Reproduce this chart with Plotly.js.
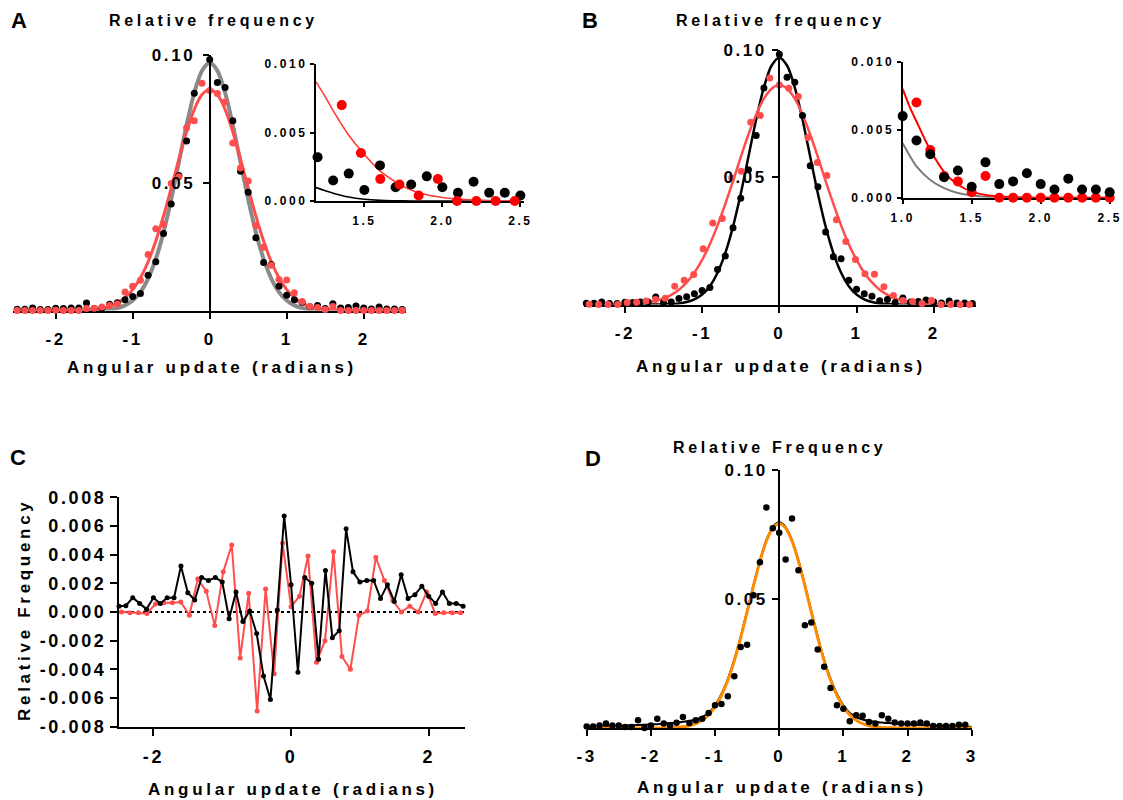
<!DOCTYPE html>
<html>
<head>
<meta charset="utf-8">
<script src="https://cdn.plot.ly/plotly-3.0.1.min.js"></script>
<style>
  html, body { margin: 0; padding: 0; background: #fff; }
  #chart { width: 1123px; height: 800px; }
  [class*="axislayer"] text { letter-spacing: 2.6px; }
  .annotation-text { letter-spacing: 3.7px; }
</style>
</head>
<body>
<div id="chart"></div>
<script>
// ---------------- DATA ----------------
// bins (0.1 rad) used by the black histogram and panel-A red histogram
const binX = [-2.5,-2.4,-2.3,-2.2,-2.1,-2.0,-1.9,-1.8,-1.7,-1.6,-1.5,-1.4,-1.3,-1.2,-1.1,-1.0,-0.9,-0.8,-0.7,-0.6,-0.5,-0.4,-0.3,-0.2,-0.1,0,0.1,0.2,0.3,0.4,0.5,0.6,0.7,0.8,0.9,1.0,1.1,1.2,1.3,1.4,1.5,1.6,1.7,1.8,1.9,2.0,2.1,2.2,2.3,2.4,2.5];
// wider bins (used by the red histogram in panel B and C)
const redXB = [-2.464,-2.341,-2.218,-2.094,-1.971,-1.848,-1.725,-1.602,-1.478,-1.355,-1.232,-1.109,-0.986,-0.862,-0.739,-0.616,-0.493,-0.370,-0.246,-0.123,0,0.123,0.246,0.370,0.493,0.616,0.739,0.862,0.986,1.109,1.232,1.355,1.478,1.602,1.725,1.848,1.971,2.094,2.218,2.341,2.464];

const blackFreq = [0.0005,0.0005,0.0010,0.0004,0.0004,0.0009,0.0008,0.0010,0.0010,0.0029,0.0008,0.0010,0.0024,0.0030,0.0042,0.0055,0.0067,0.0138,0.0191,0.0302,0.0417,0.0529,0.0664,0.0851,0.1005,0.0983,0.0893,0.0873,0.0743,0.0545,0.0463,0.0285,0.0188,0.0180,0.0095,0.0060,0.0042,0.0032,0.0015,0.0020,0.0008,0.0026,0.0010,0.0012,0.0018,0.0010,0.0006,0.0014,0.0006,0.0006,0.0004];
const redFreq = [0,0,0,0,0, 0.0001,0,0,0,0.0008, 0.0009,0.0014,0.0020,0.0025,0.0072, 0.0095,0.0118,0.0219,0.0320,0.0338, 0.0497,0.0524,0.0716,0.0743,0.0890, 0.0862, 0.0850,0.0817,0.0656,0.0558,0.0507, 0.0333,0.0248,0.0177,0.0121,0.0119, 0.0070,0.0035,0.0016,0.0012,0.0004, 0.0016,0,0,0,0, 0,0,0,0,0];

// fitted curves on binX
const fitBlack = [0,0,0,0,0,0,0,0,0, 0.00003,0.00007,0.00018,0.00043,0.00096,0.0020,0.0039,0.0072,0.0125,0.0202,0.0306,0.0435,0.0581,0.0727,0.0853,0.0939, 0.0970, 0.0939,0.0853,0.0727,0.0581,0.0435,0.0306,0.0202,0.0125,0.0072,0.0039,0.0020,0.00096,0.00043,0.00018,0.00007,0.00003, 0,0,0,0,0,0,0,0,0];
const fitRedA = [0,0,0,0,0,0,0, 0.00004,0.0001,0.0002,0.00042,0.00084,0.0016,0.0029,0.0050,0.0082,0.0128,0.0191,0.0272,0.0370,0.0480,0.0593,0.0700,0.0788,0.0846, 0.0866, 0.0846,0.0788,0.0700,0.0593,0.0480,0.0370,0.0272,0.0191,0.0128,0.0082,0.0050,0.0029,0.0016,0.00084,0.00042,0.0002,0.0001,0.00004, 0,0,0,0,0,0,0];
const fitRedB = [0,0.00001,0.00002,0.00004,0.00008,0.00015,0.00027,0.00049,0.00086,0.00145,0.0024,0.0038,0.0058,0.0087,0.0125,0.0175,0.0237,0.0311,0.0395,0.0485,0.0579,0.0668,0.0747,0.0809,0.0848, 0.0862, 0.0848,0.0809,0.0747,0.0668,0.0579,0.0485,0.0395,0.0311,0.0237,0.0175,0.0125,0.0087,0.0058,0.0038,0.0024,0.00145,0.00086,0.00049,0.00027,0.00015,0.00008,0.00004,0.00002,0.00001,0];

// insets
const insetAX = [1.19,1.25,1.3,1.4,1.5,1.6,1.7,1.8,1.9,2.0,2.1,2.2,2.3,2.4,2.5];
const insetARed = [0.0087,0.0076,0.0066,0.0048,0.0034,0.0022,0.0014,0.0008,0.00046,0.00026,0.00014,0.00007,0.00003,0.00001,0];
const insetABlack = [0.00098,0.00075,0.00057,0.00029,0.00013,0.00005,0.00002,0,0,0,0,0,0,0,0];
const insetBX = [1.0,1.05,1.1,1.2,1.3,1.4,1.5,1.6,1.7,1.8,1.9,2.0,2.2,2.5];
const insetBRed = [0.0080,0.0067,0.0056,0.0035,0.0019,0.00095,0.00045,0.0002,0.00008,0.00003,0.00001,0,0,0];
const insetBGray = [0.0040,0.0031,0.0023,0.0013,0.0007,0.00035,0.00016,0.00007,0.00003,0.00001,0,0,0,0];

// panel C (differences)
const cBlack = [0.0004,0.00044,0.0010,0.0006,0.0002, 0.0010,0.0006,0.0010,0.0010,0.0032, 0.00135,0.00084,0.0024,0.0022,0.0024, 0.0021,-0.00047,0.0014,-0.00067,0.00007, -0.0015,-0.00447,-0.0061,0.00014,0.0067, 0.0019, -0.0042,0.0024,0.0020,-0.0033,0.0029, -0.0018,-0.0013,0.0058,0.0028,0.0021, 0.0022,0.0022,0.00095,0.0019,0.00074, 0.0026,0.00095,0.0012,0.0018,0.0011, 0.0006,0.0014,0.0006,0.0006,0.0004];
const cRed = [0,-0.00005,-0.00005,-0.0001,0.00056,0.00065,0.00065,0.0007,-0.00023,0.0023, 0.00144,-0.00095,0.0028,0.00467,-0.0032,0.0013,-0.0069,0.0016,-0.0043,0.0048, 0.00037, 0.0011,0.0039,-0.0035,-0.002,0.0042,-0.0031,-0.004,-0.00023,0.00007,0.0038, 0.0022,0.0008,0,0.0004,0,0.0014,-0.0001,-0.00005,-0.00005,-0.00005];

// panel D
const dX = [-3.0,-2.9,-2.8,-2.7,-2.6,-2.5,-2.4,-2.3,-2.2,-2.1,-2.0,-1.9,-1.8,-1.7,-1.6,-1.5,-1.4,-1.3,-1.2,-1.1,-1.0,-0.9,-0.8,-0.7,-0.6,-0.5,-0.4,-0.3,-0.2,-0.1,0,0.1,0.2,0.3,0.4,0.5,0.6,0.7,0.8,0.9,1.0,1.1,1.2,1.3,1.4,1.5,1.6,1.7,1.8,1.9,2.0,2.1,2.2,2.3,2.4,2.5,2.6,2.7,2.8,2.9];
const dFreq = [0.0006,0.0006,0.0010,0.0017,0.0010,0.0010,0.0004,0.0004,0.0030,0.0000,0.0010,0.0036,0.0017,0.0010,0.0020,0.0043,0.0019,0.0030,0.0036,0.0058,0.0088,0.0093,0.0123,0.0201,0.0314,0.0323,0.0515,0.0642,0.0855,0.0774,0.0757,0.0653,0.0812,0.0611,0.0398,0.0409,0.0304,0.0237,0.0155,0.0088,0.0075,0.0026,0.0049,0.0047,0.0023,0.0017,0.0049,0.0036,0.0021,0.0017,0.0017,0.0017,0.0021,0.0017,0.0008,0.0008,0.0008,0.0008,0.0013,0.0013];
const dCurveX = [-3.0,-2.8,-2.6,-2.4,-2.2,-2.0,-1.9,-1.8,-1.7,-1.6,-1.5,-1.4,-1.3,-1.2,-1.1,-1.0,-0.9,-0.8,-0.7,-0.6,-0.5,-0.4,-0.3,-0.2,-0.1,0,0.1,0.2,0.3,0.4,0.5,0.6,0.7,0.8,0.9,1.0,1.1,1.2,1.3,1.4,1.5,1.6,1.7,1.8,1.9,2.0,2.2,2.4,2.6,2.8,3.0];
const dOrangeFit = [0,0,0,0,0,0, 0.00002,0.00005,0.00011,0.00024,0.0005,0.0009,0.0017,0.0030,0.0051,0.0082,0.0126,0.0185,0.0260,0.0350,0.0449,0.0551,0.0646,0.0724,0.0775, 0.0793, 0.0775,0.0724,0.0646,0.0551,0.0449,0.0350,0.0260,0.0185,0.0126,0.0082,0.0051,0.0030,0.0017,0.0009,0.0005,0.00024,0.00011,0.00005,0.00002, 0,0,0,0,0,0];
const dBlackFit = [0.0005,0.0006,0.0008,0.0010,0.0012,0.0014, 0.0015,0.0017,0.0019,0.0021,0.0024,0.0027,0.0033,0.0042,0.0058,0.0088,0.0132,0.0190,0.0265,0.0355,0.0454,0.0555,0.0650,0.0728,0.0779, 0.0797, 0.0779,0.0728,0.0650,0.0555,0.0454,0.0355,0.0265,0.0190,0.0132,0.0088,0.0058,0.0042,0.0033,0.0027,0.0024,0.0021,0.0019,0.0017,0.0015, 0.0014,0.0012,0.0010,0.0008,0.0006,0.0005];

// tick labels
const mainXTicks = [-2,-1,0,1,2];
const mainXText = ['-2','-1','0','1','2'];
const mainYTicks = [0.05,0.10];
const mainYText = ['0.05','0.10'];
const insetYTicks = [0,0.005,0.010];
const insetYText = ['0.000','0.005','0.010'];
const insetAXTicks = [1.5,2.0,2.5];
const insetAXText = ['1.5','2.0','2.5'];
const insetBXTicks = [1.0,1.5,2.0,2.5];
const insetBXText = ['1.0','1.5','2.0','2.5'];
const cXTicks = [-2,0,2];
const cXText = ['-2','0','2'];
const cYTicks = [-0.008,-0.006,-0.004,-0.002,0,0.002,0.004,0.006,0.008];
const cYText = ['-0.008','-0.006','-0.004','-0.002','0.000','0.002','0.004','0.006','0.008'];
const dXTicks = [-3,-2,-1,0,1,2,3];
const dXText = ['-3','-2','-1','0','1','2','3'];

// ---------------- LAYOUT HELPERS ----------------
const W = 1123, H = 800;
const F = 'Liberation Sans, Arial, sans-serif';
const RED = '#ff4d4d';
const fx = p => p / W;
const fy = p => 1 - p / H;

function ax(extra, size) {
  return Object.assign({
    showgrid: false, zeroline: false, showline: true, linecolor: '#000', linewidth: 2,
    ticks: 'outside', tickcolor: '#000', tickwidth: 2, ticklen: 6,
    tickfont: {family: F, size: size || 17, color: '#000', weight: 'bold'},
    tickmode: 'array', fixedrange: true
  }, extra);
}

function line(x, y, xa, ya, color, width) {
  return {x: x, y: y, xaxis: xa, yaxis: ya, type: 'scatter', mode: 'lines', cliponaxis: false,
          line: {color: color, width: width, shape: 'spline', smoothing: 0.8}, hoverinfo: 'skip'};
}
function dots(x, y, xa, ya, color, size) {
  return {x: x, y: y, xaxis: xa, yaxis: ya, type: 'scatter', mode: 'markers', cliponaxis: false,
          marker: {color: color, size: size, line: {width: 0}}, hoverinfo: 'skip'};
}
function lineDots(x, y, xa, ya, color) {
  return {x: x, y: y, xaxis: xa, yaxis: ya, type: 'scatter', mode: 'lines+markers', cliponaxis: false,
          line: {color: color, width: 2}, marker: {color: color, size: 5}, hoverinfo: 'skip'};
}

const traces = [
  // A main
  line(binX, fitBlack, 'x', 'y', '#8a8a8a', 4),
  line(binX, fitRedA, 'x', 'y', RED, 3),
  dots(binX, blackFreq, 'x', 'y', '#000', 7),
  dots(binX, redFreq, 'x', 'y', RED, 7),
  // A inset
  line(insetAX, insetABlack, 'x2', 'y2', '#000', 1.6),
  line(insetAX, insetARed, 'x2', 'y2', '#ff3b3b', 1.6),
  dots(binX.slice(37), blackFreq.slice(37), 'x2', 'y2', '#000', 10),
  dots(redXB.slice(31), redFreq.slice(36, 46), 'x2', 'y2', '#ff0000', 10),
  // B main
  line(binX, fitBlack, 'x3', 'y3', '#000', 2.5),
  line(binX, fitRedB, 'x3', 'y3', RED, 2.5),
  dots(binX, blackFreq, 'x3', 'y3', '#000', 7),
  dots(redXB, redFreq.slice(5, 46), 'x3', 'y3', RED, 7),
  // B inset
  line(insetBX, insetBGray, 'x4', 'y4', '#7a7a7a', 2),
  line(insetBX, insetBRed, 'x4', 'y4', '#ff0000', 2),
  dots(binX.slice(36), redFreq.slice(36), 'x4', 'y4', '#ff0000', 10),
  dots(binX.slice(35), blackFreq.slice(35), 'x4', 'y4', '#000', 10),
  // C
  lineDots(redXB, cRed, 'x5', 'y5', RED),
  lineDots(binX, cBlack, 'x5', 'y5', '#000'),
  // D
  line(dCurveX, dBlackFit, 'x6', 'y6', '#000', 2),
  line(dCurveX, dOrangeFit, 'x6', 'y6', '#ff8c00', 3),
  dots(dX, dFreq, 'x6', 'y6', '#000', 6.5)
];

function ann(text, x, y, size, extra) {
  return Object.assign({text: text, x: fx(x), y: fy(y), xref: 'paper', yref: 'paper',
    xanchor: 'center', yanchor: 'middle', showarrow: false,
    font: {family: F, size: size, color: '#000', weight: 'bold'}}, extra || {});
}

const layout = {
  width: W, height: H, margin: {l: 0, r: 0, t: 0, b: 0},
  paper_bgcolor: '#fff', plot_bgcolor: 'rgba(0,0,0,0)', showlegend: false,
  font: {family: F, color: '#000'},
  // A main
  xaxis: ax({domain: [fx(13.35), fx(406.05)], range: [-2.55, 2.55], anchor: 'y', ticklabelstandoff: 6,
             tickvals: mainXTicks, ticktext: mainXText, layer: 'below traces'}),
  yaxis: ax({domain: [fy(310.5), fy(55.2)], range: [0, 0.1], anchor: 'free', position: fx(209.7), ticklabelstandoff: 4,
             tickvals: mainYTicks, ticktext: mainYText, layer: 'above traces'}),
  // A inset
  xaxis2: ax({domain: [fx(316), fx(523.5)], range: [1.19, 2.52], anchor: 'y2', ticklen: 4, ticklabelstandoff: 4,
              tickvals: insetAXTicks, ticktext: insetAXText, layer: 'below traces'}, 12),
  yaxis2: ax({domain: [fy(201), fy(64)], range: [0, 0.01], anchor: 'x2', ticklen: 4,
              tickvals: insetYTicks, ticktext: insetYText, layer: 'below traces'}, 12),
  // B main
  xaxis3: ax({domain: [fx(584.0), fx(976.2)], range: [-2.53, 2.55], anchor: 'y3', ticklabelstandoff: 6,
              tickvals: mainXTicks, ticktext: mainXText, layer: 'below traces'}),
  yaxis3: ax({domain: [fy(304.5), fy(50)], range: [0, 0.1], anchor: 'free', position: fx(779.3), ticklabelstandoff: 2,
              tickvals: mainYTicks, ticktext: mainYText, layer: 'above traces'}),
  // B inset
  xaxis4: ax({domain: [fx(902.7), fx(1113.8)], range: [1.0, 2.53], anchor: 'y4', ticklen: 4, ticklabelstandoff: 4,
              tickvals: insetBXTicks, ticktext: insetBXText, layer: 'below traces'}, 12),
  yaxis4: ax({domain: [fy(197.7), fy(61.7)], range: [0, 0.01], anchor: 'x4', ticklen: 4,
              tickvals: insetYTicks, ticktext: insetYText, layer: 'below traces'}, 12),
  // C
  xaxis5: ax({domain: [fx(119), fx(464.5)], range: [-2.5, 2.52], anchor: 'y5', ticklen: 7, ticklabelstandoff: 6,
              tickvals: cXTicks, ticktext: cXText, layer: 'below traces'}, 18),
  yaxis5: ax({domain: [fy(726.7), fy(497.3)], range: [-0.008, 0.008], anchor: 'x5', ticklen: 7,
              tickvals: cYTicks, ticktext: cYText, layer: 'below traces'}, 18),
  // D
  xaxis6: ax({domain: [fx(586.7), fx(971.7)], range: [-3, 3], anchor: 'y6', ticklabelstandoff: 6,
              tickvals: dXTicks, ticktext: dXText, layer: 'below traces'}),
  yaxis6: ax({domain: [fy(728), fy(470)], range: [0, 0.1], anchor: 'free', position: fx(779.3), ticklabelstandoff: 1,
              tickvals: mainYTicks, ticktext: mainYText, layer: 'above traces'}),
  shapes: [
    {type: 'line', xref: 'x5 domain', yref: 'y5', x0: 0, x1: 1, y0: 0, y1: 0,
     line: {color: '#000', width: 2, dash: 'dot'}, layer: 'below'}
  ],
  annotations: [
    ann('A', 21, 20, 22), ann('B', 592, 20, 22), ann('C', 20, 457, 22), ann('D', 595, 458, 22),
    ann('Relative frequency', 213, 21, 16),
    ann('Relative frequency', 780, 21, 16),
    ann('Relative Frequency', 779, 447, 16),
    ann('Angular update (radians)', 212, 367, 17),
    ann('Angular update (radians)', 781, 366, 17),
    ann('Angular update (radians)', 293, 789, 17),
    ann('Angular update (radians)', 782, 787, 17),
    ann('Relative Frequency', 24, 610, 17, {textangle: -90})
  ]
};

Plotly.newPlot('chart', traces, layout, {staticPlot: true, displayModeBar: false});
</script>
</body>
</html>
